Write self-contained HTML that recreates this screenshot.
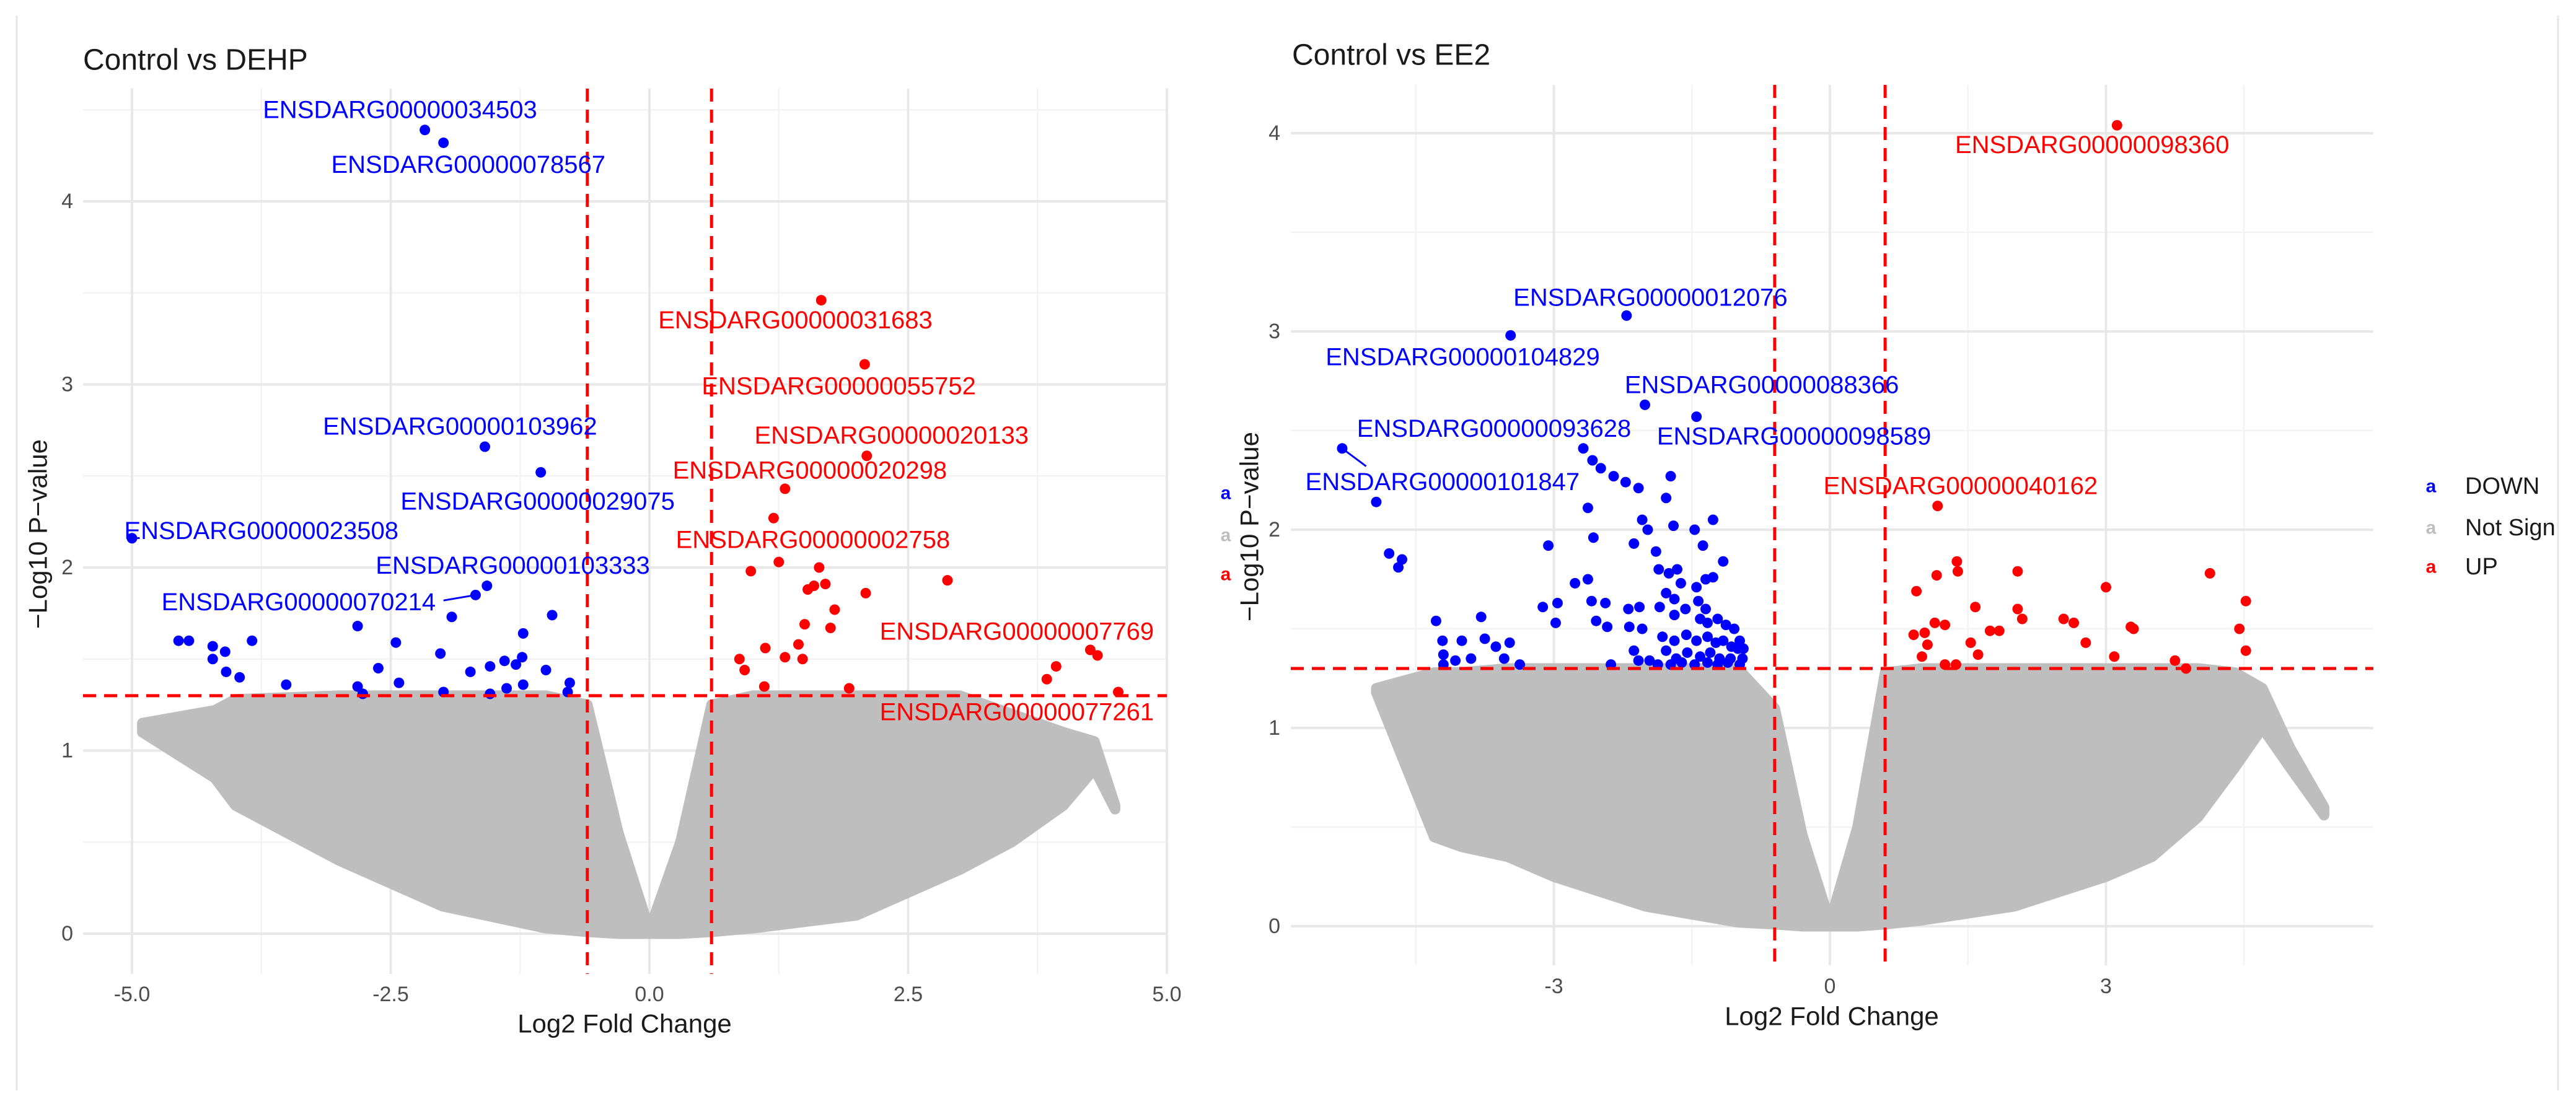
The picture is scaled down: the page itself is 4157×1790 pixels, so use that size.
<!DOCTYPE html>
<html><head><meta charset="utf-8"><style>
html,body{margin:0;padding:0;background:#fff;}
svg{display:block;font-family:"Liberation Sans",Arial,sans-serif;}
</style></head><body>
<svg id="chart" width="4157" height="1790" viewBox="0 0 4157 1790" xmlns="http://www.w3.org/2000/svg">
<rect x="0" y="0" width="4157" height="1790" fill="#fff"/>
<line x1="27" y1="25" x2="27" y2="1760" stroke="#e6e6e6" stroke-width="3"/>
<line x1="4128" y1="25" x2="4128" y2="1760" stroke="#e6e6e6" stroke-width="3"/>
</svg>
<script>
// ---------- Panel A: Control vs DEHP ----------
const dehpDownX = [-2.17,-1.99,-1.59,-1.05,-5.0,-1.68,-1.57,-1.91,-2.82,-0.94,-4.55,-4.45,-4.22,-4.1,-4.22,-4.09,-3.96,-3.84,-3.51,-2.82,-2.77,-2.62,-2.45,-2.42,-2.02,-1.99,-1.73,-1.54,-1.54,-1.4,-1.38,-1.29,-1.23,-1.22,-1.22,-1.0,-0.77,-0.79];
const dehpDownY = [4.39,4.32,2.66,2.52,2.16,1.85,1.90,1.73,1.68,1.74,1.60,1.60,1.57,1.54,1.50,1.43,1.40,1.60,1.36,1.35,1.31,1.45,1.59,1.37,1.53,1.32,1.43,1.46,1.31,1.49,1.34,1.47,1.51,1.64,1.36,1.44,1.37,1.32];
const dehpUpX = [1.66,2.08,2.10,1.31,1.2,0.98,1.25,1.64,1.53,1.59,1.70,1.79,2.09,2.88,1.50,1.75,1.44,1.48,1.31,1.12,0.87,0.92,1.11,1.93,4.26,4.33,3.93,3.84,4.53];
const dehpUpY = [3.46,3.11,2.61,2.43,2.27,1.98,2.03,2.0,1.88,1.90,1.91,1.77,1.86,1.93,1.69,1.67,1.58,1.50,1.51,1.56,1.50,1.44,1.35,1.34,1.55,1.52,1.46,1.39,1.32];
const dehpCloudX = [-4.9,-4.2,-4.0,-3.0,-2.0,-1.0,-0.6,-0.3,0,0.3,0.6,1.0,2.0,3.0,3.5,4.0,4.3,4.5];
const dehpCloudTop = [1.15,1.22,1.28,1.3,1.3,1.3,1.25,0.55,0.02,0.5,1.25,1.3,1.3,1.3,1.2,1.1,1.05,0.7];
const dehpCloudBottom = [1.1,0.85,0.7,0.4,0.15,0.03,0.01,0,0,0,0.01,0.03,0.1,0.35,0.5,0.7,0.9,0.68];
const dehpLabelText = ["ENSDARG00000034503","ENSDARG00000078567","ENSDARG00000103962","ENSDARG00000029075","ENSDARG00000023508","ENSDARG00000103333","ENSDARG00000070214","ENSDARG00000031683","ENSDARG00000055752","ENSDARG00000020133","ENSDARG00000020298","ENSDARG00000002758","ENSDARG00000007769","ENSDARG00000077261"];
const dehpLabelX = [-2.41,-1.75,-1.83,-1.08,-3.75,-1.32,-3.39,1.41,1.83,2.34,1.55,1.58,3.55,3.55];
const dehpLabelY = [4.50,4.20,2.77,2.36,2.20,2.01,1.81,3.35,2.99,2.72,2.53,2.15,1.65,1.21];
const dehpLabelDir = ["DOWN","DOWN","DOWN","DOWN","DOWN","DOWN","DOWN","UP","UP","UP","UP","UP","UP","UP"];
const dehpXTicks = [-5.0,-2.5,0.0,2.5,5.0];
const dehpXTickLabels = ["-5.0","-2.5","0.0","2.5","5.0"];
const dehpYTicks = [0,1,2,3,4];
const dehpYTickLabels = ["0","1","2","3","4"];

// ---------- Panel B: Control vs EE2 ----------
const ee2DownX = [-5.3,-4.93,-4.79,-4.65,-4.69,-4.28,-4.21,-4.2,-4.2,-4.0,-4.07,-3.9,-3.79,-3.75,-3.63,-3.48,-3.54,-3.37,-3.47,-2.21,-2.01,-1.45,-2.68,-2.58,-2.49,-2.35,-2.22,-2.08,-1.73,-1.78,-2.63,-3.06,-2.57,-2.04,-1.98,-1.7,-1.27,-1.47,-2.13,-1.89,-1.38,-1.16,-3.12,-2.96,-2.98,-2.77,-2.63,-2.59,-2.44,-2.54,-2.42,-2.19,-2.07,-2.18,-2.04,-1.86,-1.75,-1.66,-1.62,-1.78,-1.69,-1.85,-1.69,-1.57,-1.45,-1.35,-1.27,-1.43,-1.35,-1.41,-1.33,-1.22,-1.13,-1.04,-1.82,-1.69,-1.56,-1.45,-1.33,-1.24,-1.16,-1.07,-1.0,-1.78,-1.67,-1.55,-1.41,-1.3,-1.2,-1.08,-0.95,-2.13,-2.08,-1.96,-2.38,-1.87,-1.73,-1.61,-1.47,-1.33,-1.22,-1.11,-0.98,-0.94,-0.98];
const ee2DownY = [2.41,2.14,1.88,1.85,1.81,1.54,1.44,1.37,1.32,1.44,1.34,1.35,1.56,1.45,1.41,1.43,1.35,1.32,2.98,3.08,2.63,2.57,2.41,2.35,2.31,2.27,2.24,2.21,2.27,2.16,2.11,1.92,1.96,2.05,2.0,2.02,2.05,2.0,1.93,1.89,1.92,1.84,1.61,1.63,1.53,1.73,1.75,1.64,1.63,1.54,1.51,1.6,1.61,1.51,1.5,1.8,1.78,1.8,1.73,1.68,1.65,1.61,1.57,1.6,1.71,1.75,1.76,1.64,1.6,1.55,1.53,1.55,1.52,1.5,1.46,1.44,1.47,1.44,1.46,1.43,1.44,1.41,1.4,1.39,1.35,1.38,1.36,1.38,1.35,1.35,1.35,1.39,1.34,1.34,1.32,1.32,1.32,1.33,1.32,1.33,1.32,1.33,1.32,1.40,1.44];
const ee2UpX = [3.12,1.17,0.94,1.16,1.38,1.39,2.04,1.58,2.04,2.09,1.74,1.84,1.14,1.25,0.91,1.03,1.06,1.0,1.53,1.61,1.25,1.37,2.54,2.65,2.78,3.0,3.27,3.3,3.09,3.75,3.87,4.13,4.52,4.45,4.52];
const ee2UpY = [4.04,2.12,1.69,1.77,1.84,1.79,1.79,1.61,1.6,1.55,1.49,1.49,1.53,1.52,1.47,1.48,1.42,1.36,1.43,1.37,1.32,1.32,1.55,1.53,1.43,1.71,1.51,1.5,1.36,1.34,1.3,1.78,1.64,1.5,1.39];
const ee2CloudX = [-4.93,-4.3,-4.0,-3.5,-3.0,-2.0,-1.0,-0.6,-0.3,0,0.3,0.6,1.0,2.0,3.0,3.5,4.0,4.4,4.7,5.0,5.37];
const ee2CloudTop = [1.2,1.28,1.28,1.3,1.3,1.3,1.3,1.1,0.46,0.02,0.5,1.28,1.3,1.3,1.3,1.3,1.3,1.28,1.2,0.9,0.6];
const ee2CloudBottom = [1.18,0.45,0.4,0.35,0.25,0.1,0.02,0.01,0,0,0,0.01,0.03,0.1,0.25,0.35,0.55,0.8,1.0,0.8,0.56];
const ee2LabelText = ["ENSDARG00000098360","ENSDARG00000012076","ENSDARG00000104829","ENSDARG00000088366","ENSDARG00000093628","ENSDARG00000098589","ENSDARG00000101847","ENSDARG00000040162"];
const ee2LabelX = [2.85,-1.95,-3.99,-0.74,-3.65,-0.39,-4.21,1.42];
const ee2LabelY = [3.94,3.17,2.87,2.73,2.51,2.47,2.24,2.22];
const ee2LabelDir = ["UP","DOWN","DOWN","DOWN","DOWN","DOWN","DOWN","UP"];
const ee2XTicks = [-3,0,3];
const ee2XTickLabels = ["-3","0","3"];
const ee2YTicks = [0,1,2,3,4];
const ee2YTickLabels = ["0","1","2","3","4"];

const legendLabels = ["DOWN","Not Sign","UP"];
const fcCut = [-0.6,0.6];
const pCut = 1.3;

const NS = "http://www.w3.org/2000/svg";
const svg = document.getElementById("chart");
const COL = {DOWN:"#0000ff", UP:"#ff0000", NS:"#bebebe"};
function mk(tag, attrs, parent){
  const e = document.createElementNS(NS, tag);
  for (const k in attrs) e.setAttribute(k, attrs[k]);
  (parent||svg).appendChild(e);
  return e;
}

function drawPanel(p){
  const g = mk("g", {});
  
  
  const sx = v => p.x0 + v * p.ux;
  const sy = v => p.y0 - v * p.uy;
  const L = p.left, R = p.right, T = p.top, B = p.bottom;
  // minor grid
  p.minorX.forEach(v => {
    const l = mk("line", {x1:sx(v), x2:sx(v), y1:T, y2:B, stroke:"#f3f3f3", "stroke-width":2.5}, g);
    
    
  });
  p.minorY.forEach(v => {
    const l = mk("line", {x1:L, x2:R, y1:sy(v), y2:sy(v), stroke:"#f3f3f3", "stroke-width":2.5}, g);
    
    
  });
  p.xTicks.forEach((v,i) => {
    const l = mk("line", {x1:sx(v), x2:sx(v), y1:T, y2:B, stroke:"#e8e8e8", "stroke-width":4}, g);
    
    
    const t = mk("text", {x:sx(v), y:p.xTickY, "text-anchor":"middle", "dominant-baseline":"central", "font-size":34, fill:"#4d4d4d"}, g);
    t.textContent = p.xTickLabels[i];
    
    
  });
  p.yTicks.forEach((v,i) => {
    const l = mk("line", {x1:L, x2:R, y1:sy(v), y2:sy(v), stroke:"#e8e8e8", "stroke-width":4}, g);
    
    
    const t = mk("text", {x:p.yTickX, y:sy(v), "text-anchor":"end", "dominant-baseline":"central", "font-size":34, fill:"#4d4d4d"}, g);
    t.textContent = p.yTickLabels[i];
    
    
  });
  // not-significant cloud
  let d = "";
  p.cloudX.forEach((v,i) => { d += (i? "L":"M") + sx(v) + "," + sy(p.cloudTop[i]) + " "; });
  for (let i = p.cloudX.length-1; i >= 0; i--) d += "L" + sx(p.cloudX[i]) + "," + sy(p.cloudBottom[i]) + " ";
  d += "Z";
  const cloud = mk("path", {d:d, fill:COL.NS, stroke:COL.NS, "stroke-width":17, "stroke-linejoin":"round"}, g);
  
  
  // significant points
  p.downX.forEach((v,i) => {
    const c = mk("circle", {cx:sx(v), cy:sy(p.downY[i]), r:8.5, fill:COL.DOWN}, g);
    
    
  });
  p.upX.forEach((v,i) => {
    const c = mk("circle", {cx:sx(v), cy:sy(p.upY[i]), r:8.5, fill:COL.UP}, g);
    
    
  });
  // threshold lines
  fcCut.forEach(v => {
    const l = mk("line", {x1:sx(v), x2:sx(v), y1:T, y2:B, stroke:"#ff0000", "stroke-width":5, "stroke-dasharray":"21 13"}, g);
    
    
  });
  const hl = mk("line", {x1:L, x2:R, y1:sy(pCut), y2:sy(pCut), stroke:"#ff0000", "stroke-width":5, "stroke-dasharray":"21 13"}, g);
  
  
  // leader segment
  if (p.seg) {
    const s = mk("line", {x1:sx(p.seg[0]), y1:sy(p.seg[1]), x2:sx(p.seg[2]), y2:sy(p.seg[3]), stroke:COL.DOWN, "stroke-width":3}, g);
    
    
  }
  // labels
  p.labelText.forEach((txt,i) => {
    const t = mk("text", {x:sx(p.labelX[i]), y:sy(p.labelY[i]), "text-anchor":"middle", "dominant-baseline":"central", "font-size":40, fill:COL[p.labelDir[i]]}, g);
    t.textContent = txt;
    
    
  });
  // titles
  const tt = mk("text", {x:p.titleX, y:p.titleY, "dominant-baseline":"central", "font-size":48, fill:"#1a1a1a"}, g);
  tt.textContent = p.title;
  
  
  const xt = mk("text", {x:p.xTitleX, y:p.xTitleY, "text-anchor":"middle", "dominant-baseline":"central", "font-size":42, fill:"#1a1a1a"}, g);
  xt.textContent = "Log2 Fold Change";
  
  
  const yt = mk("text", {x:0, y:0, "text-anchor":"middle", "dominant-baseline":"central", "font-size":42, fill:"#1a1a1a", transform:"translate("+p.yTitleX+","+p.yTitleY+") rotate(-90)"}, g);
  yt.textContent = "\u2212Log10 P\u2212value";
  
  
  // legend
  if (p.legend) {
    const cols = [COL.DOWN, COL.NS, COL.UP];
    legendLabels.forEach((lab,i) => {
      const k = mk("text", {x:p.legend.kx, y:p.legend.y[i], "text-anchor":"middle", "dominant-baseline":"central", "font-size":30, "font-weight":"bold", fill:cols[i]}, g);
      k.textContent = "a";
      
      
      if (p.legend.tx) {
        const t = mk("text", {x:p.legend.tx, y:p.legend.y[i], "dominant-baseline":"central", "font-size":38, fill:"#1a1a1a"}, g);
        t.textContent = lab;
        
        
      }
    });
  }
}

drawPanel({
  name:"panel-dehp", title:"Control vs DEHP",
  x0:1048, ux:167, y0:1507, uy:295.5,
  left:134, right:1883, top:143, bottom:1572,
  minorX:[-3.75,-1.25,1.25,3.75], minorY:[0.5,1.5,2.5,3.5,4.5],
  xTicks:dehpXTicks, xTickLabels:dehpXTickLabels, yTicks:dehpYTicks, yTickLabels:dehpYTickLabels,
  xTickY:1605, yTickX:118,
  downX:dehpDownX, downY:dehpDownY, upX:dehpUpX, upY:dehpUpY,
  cloudX:dehpCloudX, cloudTop:dehpCloudTop, cloudBottom:dehpCloudBottom,
  labelText:dehpLabelText, labelX:dehpLabelX, labelY:dehpLabelY, labelDir:dehpLabelDir,
  seg:[-1.99,1.82,-1.68,1.85],
  titleX:134, titleY:97, xTitleX:1008, xTitleY:1652, yTitleX:61, yTitleY:862,
  legend:{kx:1978, y:[796,864,927]}
});
drawPanel({
  name:"panel-ee2", title:"Control vs EE2",
  x0:2953, ux:148.5, y0:1495, uy:320,
  left:2083, right:3830, top:137, bottom:1558,
  minorX:[-4.5,-1.5,1.5,4.5], minorY:[0.5,1.5,2.5,3.5],
  xTicks:ee2XTicks, xTickLabels:ee2XTickLabels, yTicks:ee2YTicks, yTickLabels:ee2YTickLabels,
  xTickY:1592, yTickX:2066,
  downX:ee2DownX, downY:ee2DownY, upX:ee2UpX, upY:ee2UpY,
  cloudX:ee2CloudX, cloudTop:ee2CloudTop, cloudBottom:ee2CloudBottom,
  labelText:ee2LabelText, labelX:ee2LabelX, labelY:ee2LabelY, labelDir:ee2LabelDir,
  seg:[-5.04,2.32,-5.3,2.41],
  titleX:2085, titleY:89, xTitleX:2956, xTitleY:1640, yTitleX:2016, yTitleY:850,
  legend:{kx:3923, tx:3978, y:[785,852,915]}
});
</script>
</body></html>
